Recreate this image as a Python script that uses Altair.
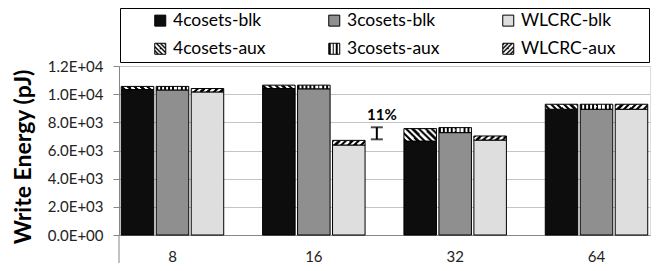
import math
import altair as alt
import pandas as pd

# ---------------- data ----------------
sizes = ["8", "16", "32", "64"]
schemes = ["4cosets", "3cosets", "WLCRC"]
blk_4cosets = [10330, 10400, 6670, 8930]
aux_4cosets = [220, 240, 885, 355]
blk_3cosets = [10300, 10380, 7270, 8930]
aux_3cosets = [250, 260, 355, 355]
blk_wlcrc = [10160, 6390, 6740, 8930]
aux_wlcrc = [240, 330, 290, 355]
series_order = ["4cosets-blk", "3cosets-blk", "WLCRC-blk",
                "4cosets-aux", "3cosets-aux", "WLCRC-aux"]
y_ticks = [0, 2000, 4000, 6000, 8000, 10000, 12000]

annot_size = ["16"]
annot_lo = [6793]
annot_hi = [7648]
annot_text = ["11%"]

# ---------------- table ----------------
blk = {"4cosets": blk_4cosets, "3cosets": blk_3cosets, "WLCRC": blk_wlcrc}
aux = {"4cosets": aux_4cosets, "3cosets": aux_3cosets, "WLCRC": aux_wlcrc}
rows = []
for i, s in enumerate(sizes):
    for sc in schemes:
        b = blk[sc][i]
        a = aux[sc][i]
        rows.append({"size": s, "scheme": sc, "series": sc + "-blk", "lo": 0, "hi": b})
        rows.append({"size": s, "scheme": sc, "series": sc + "-aux", "lo": b, "hi": b + a})
df = pd.DataFrame(rows)
annot = pd.DataFrame({"size": annot_size, "lo": annot_lo, "hi": annot_hi, "label": annot_text})


# ---------------- hatch fills (radial-gradient stripes) ----------------
def stripes(kind, n, frac=0.5):
    D = 40.0
    r2 = math.sqrt(2)
    if kind == "v":
        cx, cy, ra, rb = -D, 0.5, D, D + 1
    elif kind == "fwd":      # "/"
        cx, cy, ra, rb = -D, -D, D * r2, D * r2 + r2
    else:                    # "\"
        cx, cy, ra, rb = 1 + D, -D, D * r2, D * r2 + r2
    st = []
    for k in range(n):
        a = k / n
        b = (k + frac) / n
        c = (k + 1) / n
        st += ["{offset:%.4f,color:'#000'}" % a, "{offset:%.4f,color:'#000'}" % b,
               "{offset:%.4f,color:'#fff'}" % b, "{offset:%.4f,color:'#fff'}" % c]
    return {"expr": "{gradient:'radial',x1:%g,y1:%g,r1:%g,x2:%g,y2:%g,r2:%g,stops:[%s]}"
            % (cx, cy, ra, cx, cy, rb, ",".join(st))}


solid = ["#0d0d0d", "#8f8f8f", "#dedede"]
bar_range = solid + [stripes("back", 10), stripes("v", 8, 0.45), stripes("fwd", 10)]
legend_range = solid + [stripes("back", 5), stripes("v", 3, 0.45), stripes("fwd", 5)]

FONT = "Lato"
W, H = 531, 169

x_enc = alt.X("size:N", sort=sizes,
              scale=alt.Scale(domain=sizes, paddingInner=0.275, paddingOuter=0.016),
              axis=alt.Axis(title=None, labelAngle=0, labelFont=FONT, labelFontSize=15,
                            labelColor="#222", labelPadding=14, ticks=False, tickSize=0,
                            domainColor="#868686", grid=False))

bars = alt.Chart(df).mark_bar(stroke="#000", strokeWidth=1).encode(
    x=x_enc,
    xOffset=alt.XOffset("scheme:N", sort=schemes,
                        scale=alt.Scale(domain=schemes, paddingInner=0.07)),
    y=alt.Y("lo:Q", scale=alt.Scale(domain=[0, 12000], nice=False),
            axis=alt.Axis(values=y_ticks, labelOverlap=False, labelSeparation=0,
                          labelExpr="replace(upper(format(datum.value, '.1e')), 'E+', 'E+0')",
                          labelFont=FONT, labelFontSize=15, labelColor="#222",
                          labelPadding=10, tickSize=6, tickColor="#868686",
                          domainColor="#868686", gridColor="#c4c4c4",
                          title="Write Energy (pJ)", titleFont=FONT, titleFontSize=23,
                          titleFontWeight="bold", titleColor="#000",
                          titleX=-96, titleY=90.5, titleAngle=270,
                          titleBaseline="middle", titleAlign="center")),
    y2="hi:Q",
    fill=alt.Fill("series:N", scale=alt.Scale(domain=series_order, range=bar_range),
                  legend=None),
)

legend_layer = alt.Chart(df).transform_filter("false").mark_square(
    size=121, filled=True, stroke="#000", strokeWidth=1, opacity=1
).encode(
    fill=alt.Fill("series:N", scale=alt.Scale(domain=series_order, range=legend_range),
                  legend=alt.Legend(title=None, orient="none", legendX=32.5, legendY=-54.5,
                                    direction="horizontal", columns=3, gridAlign="all",
                                    columnPadding=58, rowPadding=9.5,
                                    symbolType="square", symbolSize=121,
                                    symbolStrokeColor="#000", symbolStrokeWidth=1,
                                    labelFont=FONT, labelFontSize=17.5, labelColor="#000",
                                    labelOffset=4, padding=0)),
)

frame = alt.Chart(annot).mark_rect(fillOpacity=0, stroke="#000", strokeWidth=1).encode(
    x=alt.value(1.5), x2=alt.value(530.5), y=alt.value(-57.5), y2=alt.value(-3.5)
)

axis_ext = alt.Chart(annot).mark_rule(color="#868686", strokeWidth=1).encode(
    x=alt.value(0), y=alt.value(H), y2=alt.value(H + 28)
)

ibeam = alt.Chart(annot).mark_rule(color="#000", strokeWidth=2, xOffset=63).encode(
    x=alt.X("size:N", axis=None), y=alt.Y("lo:Q", axis=None), y2="hi:Q"
)
ibeam_lo = alt.Chart(annot).mark_tick(color="#000", size=12, thickness=2, xOffset=63).encode(
    x=alt.X("size:N", axis=None), y=alt.Y("lo:Q", axis=None)
)
ibeam_hi = alt.Chart(annot).mark_tick(color="#000", size=12, thickness=2, xOffset=63).encode(
    x=alt.X("size:N", axis=None), y=alt.Y("hi:Q", axis=None)
)
label = alt.Chart(annot).mark_text(font=FONT, fontSize=15, fontWeight="bold", color="#000",
                                   dx=68, dy=-12.5, baseline="middle").encode(
    x=alt.X("size:N", axis=None), y=alt.Y("hi:Q", axis=None), text="label:N"
)

chart = alt.layer(bars, legend_layer, frame, axis_ext, ibeam, ibeam_lo, ibeam_hi, label).resolve_scale(
    fill="independent"
).resolve_axis(
    x="independent", y="independent"
).properties(
    width=W, height=H,
    autosize=alt.AutoSizeParams(type="none"),
    padding={"left": 111, "top": 58, "right": 3, "bottom": 28},
).configure_view(strokeWidth=0).configure(font=FONT).configure_axis(labelOverlap=False)

chart.save("out.html", embed_options={"renderer": "svg", "actions": False})
